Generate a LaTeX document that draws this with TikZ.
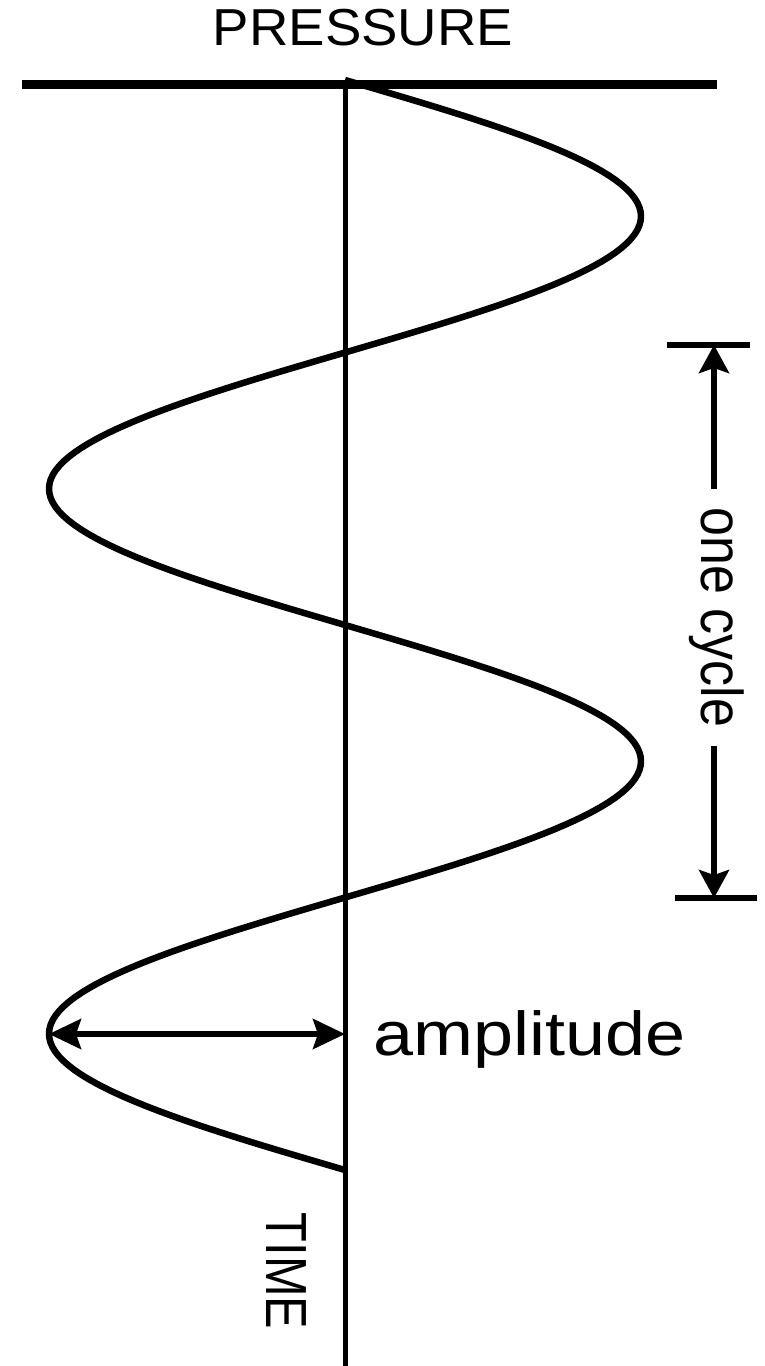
\documentclass[tikz,border=0pt]{standalone}
\usepackage{fontspec}
\setmainfont{Liberation Sans}
\usetikzlibrary{arrows.meta,positioning}
\tikzset{
  topline/.style={line width=9pt, draw=black},
  axisline/.style={line width=5pt, draw=black},
  wave/.style={line width=6.5pt, draw=black, line join=round},
  endtick/.style={line width=5.5pt, draw=black},
  dimarrow/.style={-{Stealth[length=28pt,width=30pt,inset=5pt]}, line width=5.5pt},
  twoarrow/.style={{Stealth[length=32pt,width=30pt,inset=5pt]}-{Stealth[length=32pt,width=30pt,inset=5pt]}, line width=5.5pt},
  caption/.style={inner sep=0pt, text=black}
}

\begin{document}
\begin{tikzpicture}[x=1pt,y=-1pt]
    \useasboundingbox (0,0) rectangle (765,1366);
    \coordinate (pleft) at (22,84);
    \coordinate (pright) at (717,84);
    \coordinate (origin) at (345,84);
    \coordinate (axisend) at (345,1366);
    \coordinate (ctop) at (714,345);
    \coordinate (cbot) at (714,898);
    \coordinate (trough) at (49,1034);
    \coordinate (axishit) at (345,1034);
    \draw[topline] (pleft) -- (pright);
    \draw[axisline] (origin) -- (axisend);
    \draw[wave] plot[variable=\t,domain=0:4,samples=241] ({345+296*sin(180*\t)},{80+272.5*\t});
    \node[caption,font=\fontsize{52}{54}\selectfont,xscale=1.05] (pressure) at (363,28) {PRESSURE};
    \node[caption,font=\fontsize{58}{60}\selectfont,rotate=-90,xscale=0.84] (time) at (286,1271) {TIME};
    \node[caption,font=\fontsize{62}{64}\selectfont,xscale=1.16,anchor=base west] (amp) at (373,1055) {amplitude};
    \node[caption,font=\fontsize{59}{61}\selectfont,rotate=-90,xscale=0.88,inner xsep=21pt,anchor=base] (onecycle) at (701,617.5) {one cycle};
    \draw[endtick] ([xshift=-47pt]ctop) -- ([xshift=36pt]ctop);
    \draw[endtick] ([xshift=-39pt]cbot) -- ([xshift=43pt]cbot);
    \draw[dimarrow] (onecycle.west -| ctop) -- (ctop);
    \draw[dimarrow] (onecycle.east -| cbot) -- (cbot);
    \draw[twoarrow] (trough) -- (axishit);
  \end{tikzpicture}
\end{document}
